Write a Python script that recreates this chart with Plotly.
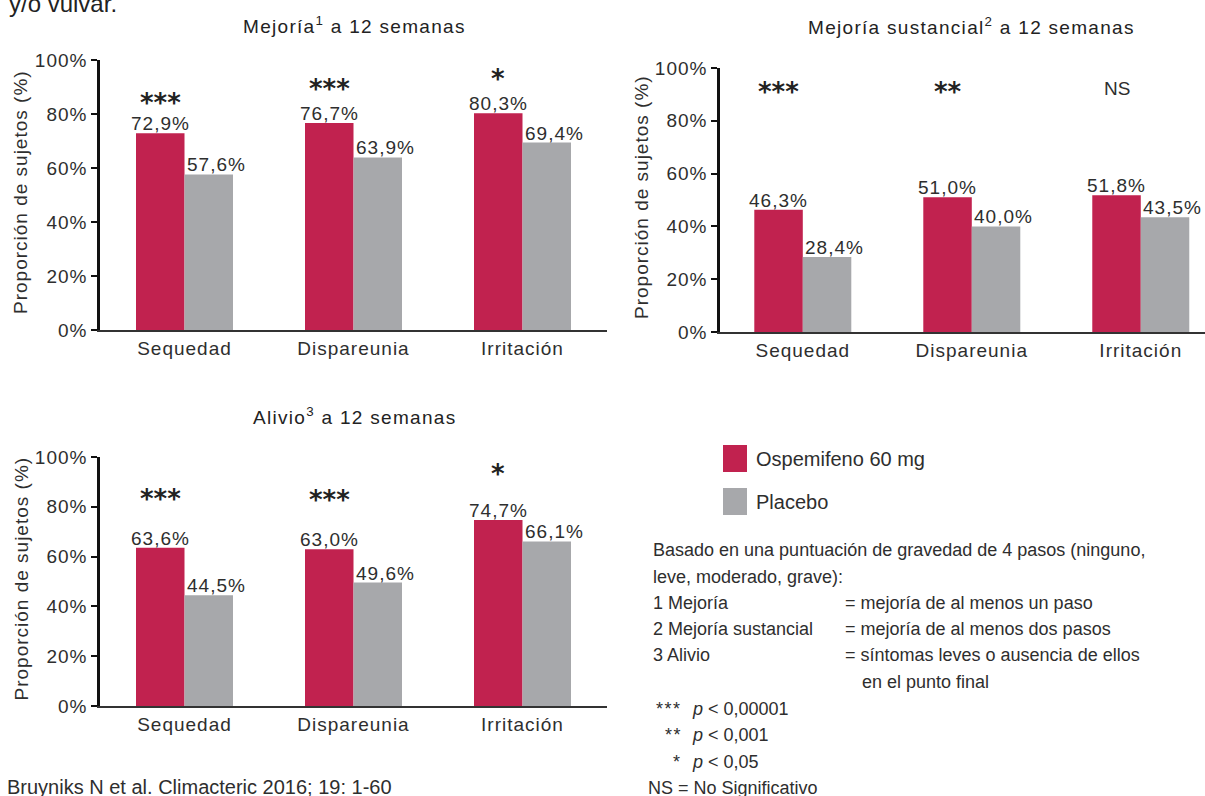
import plotly.graph_objects as go

# ---- data ----
categories = ["Sequedad", "Dispareunia", "Irritación"]

mejoria_ospemifeno = [72.9, 76.7, 80.3]
mejoria_placebo = [57.6, 63.9, 69.4]
mejoria_sig = ["***", "***", "*"]

sustancial_ospemifeno = [46.3, 51.0, 51.8]
sustancial_placebo = [28.4, 40.0, 43.5]
sustancial_sig = ["***", "**", "NS"]

alivio_ospemifeno = [63.6, 63.0, 74.7]
alivio_placebo = [44.5, 49.6, 66.1]
alivio_sig = ["***", "***", "*"]

y_ticks = [0, 20, 40, 60, 80, 100]
y_tick_labels = ["0%", "20%", "40%", "60%", "80%", "100%"]

# ---- styling / layout constants ----
W, H = 1205, 796
RED = "#C1224F"
GREY = "#A7A8AB"
TXT = "#2e2e2e"
FONT = "Liberation Sans"
BAR_PX = 48.5  # width of a single bar in pixels (169 px per category, bargap 0.426)


def px(x):
    return x / W


def py(y):
    return 1 - y / H


def spaced(t, sp=1):
    return f'<span style="letter-spacing:{sp}px">{t}</span>'


panels = [
    dict(title="Mejoría<sup>1</sup> a 12 semanas", title_xy=(354, 25),
         osp=mejoria_ospemifeno, pla=mejoria_placebo, sig=mejoria_sig,
         star_y=[85.6, 90.6, 94.6],
         xd=(100, 607), xr=[-0.5, 2.5], yd=(60, 330), ax=""),
    dict(title="Mejoría sustancial<sup>2</sup> a 12 semanas", title_xy=(971, 26),
         osp=sustancial_ospemifeno, pla=sustancial_placebo, sig=sustancial_sig,
         star_y=[92.4, 92.4, 92.4],
         xd=(720, 1205), xr=[-0.49, 2.38], yd=(68, 332), ax="2"),
    dict(title="Alivio<sup>3</sup> a 12 semanas", title_xy=(354, 416),
         osp=alivio_ospemifeno, pla=alivio_placebo, sig=alivio_sig,
         star_y=[84.7, 84.5, 94.8],
         xd=(100, 607), xr=[-0.5, 2.5], yd=(457, 706), ax="3"),
]


def fmt(v):
    return f"{v:.1f}".replace(".", ",") + "%"


fig = go.Figure()
annotations = []
layout_axes = {}

for p in panels:
    xa, ya = "x" + p["ax"], "y" + p["ax"]
    fig.add_trace(go.Bar(x=categories, y=p["osp"], name="Ospemifeno 60 mg",
                         marker=dict(color=RED, line=dict(width=0)),
                         xaxis=xa, yaxis=ya, showlegend=False, hoverinfo="skip"))
    fig.add_trace(go.Bar(x=categories, y=p["pla"], name="Placebo",
                         marker=dict(color=GREY, line=dict(width=0)),
                         xaxis=xa, yaxis=ya, showlegend=False, hoverinfo="skip"))

    layout_axes["xaxis" + p["ax"]] = dict(
        domain=[px(p["xd"][0]), px(p["xd"][1])], range=p["xr"], type="category",
        anchor=ya, showline=True, linecolor="#333333", linewidth=2,
        ticks="", showgrid=False, zeroline=False, automargin=False,
        tickmode="array", tickvals=categories, ticktext=[spaced(c) for c in categories],
        tickfont=dict(family=FONT, size=19, color=TXT), fixedrange=True)
    layout_axes["yaxis" + p["ax"]] = dict(
        domain=[py(p["yd"][1]), py(p["yd"][0])], range=[0, 100],
        anchor=xa, tickmode="array", tickvals=y_ticks, automargin=False,
        ticktext=[spaced(t) for t in y_tick_labels], showline=True,
        linecolor="#111111", linewidth=2.5, ticks="outside", ticklen=6,
        tickwidth=1.5, tickcolor="#111111", showgrid=False, zeroline=False,
        tickfont=dict(family=FONT, size=19, color=TXT), fixedrange=True)

    # panel title
    annotations.append(dict(text=spaced(p["title"], 1.3), x=px(p["title_xy"][0]), y=py(p["title_xy"][1]),
                            xref="paper", yref="paper", xanchor="center", yanchor="middle",
                            showarrow=False, font=dict(family=FONT, size=19, color="#222222")))
    # y axis title
    annotations.append(dict(text=spaced("Proporción de sujetos (%)"), textangle=-90,
                            x=px(p["xd"][0] - 79), y=py((p["yd"][0] + p["yd"][1]) / 2 - 3),
                            xref="paper", yref="paper", xanchor="center", yanchor="middle",
                            showarrow=False, font=dict(family=FONT, size=19, color=TXT)))

    for i, cat in enumerate(categories):
        # value labels
        annotations.append(dict(text=spaced(fmt(p["osp"][i])), x=cat, y=p["osp"][i], xref=xa, yref=ya,
                                xshift=-BAR_PX / 2, yshift=-3, xanchor="center", yanchor="bottom",
                                showarrow=False, font=dict(family=FONT, size=19, color=TXT)))
        annotations.append(dict(text=spaced(fmt(p["pla"][i])), x=cat, y=p["pla"][i], xref=xa, yref=ya,
                                xshift=0, yshift=-3, xanchor="left", yanchor="bottom",
                                showarrow=False, font=dict(family=FONT, size=19, color=TXT)))
        # significance markers
        s = p["sig"][i]
        if s == "NS":
            font = dict(family=FONT, size=19, color=TXT)
            shift = 0
        else:
            font = dict(family="DejaVu Sans", size=26, color="#222222", weight="bold")
            shift = -4
        annotations.append(dict(text=s, x=cat, y=p["star_y"][i], xref=xa, yref=ya,
                                xshift=-BAR_PX / 2, yshift=shift, xanchor="center", yanchor="middle",
                                showarrow=False, font=font))

# legend drawn as swatches + labels
legend_items = [("Ospemifeno 60 mg", RED, 445, 472), ("Placebo", GREY, 488, 515)]
shapes = []
for label, col, y0, y1 in legend_items:
    shapes.append(dict(type="rect", xref="paper", yref="paper",
                       x0=px(723), x1=px(747), y0=py(y1), y1=py(y0),
                       fillcolor=col, line=dict(width=0)))
    annotations.append(dict(text=label, x=px(754), y=py((y0 + y1) / 2), xref="paper", yref="paper",
                            xanchor="left", yanchor="middle", showarrow=False,
                            font=dict(family=FONT, size=20, color=TXT)))

# footnotes
note_lines = [
    (651, 550, "Basado en una puntuación de gravedad de 4 pasos (ninguno,"),
    (651, 577, "leve, moderado, grave):"),
    (651, 603, "1 Mejoría"),
    (651, 629, "2 Mejoría sustancial"),
    (651, 655, "3 Alivio"),
    (843, 603, "= mejoría de al menos un paso"),
    (843, 629, "= mejoría de al menos dos pasos"),
    (843, 655, "= síntomas leves o ausencia de ellos"),
    (860, 682, "en el punto final"),
    (690, 709, "<i>p</i> < 0,00001"),
    (690, 735, "<i>p</i> < 0,001"),
    (690, 762, "<i>p</i> < 0,05"),
]
for x, y, t in note_lines:
    annotations.append(dict(text=t, x=px(x), y=py(y), xref="paper", yref="paper",
                            xanchor="left", yanchor="middle", showarrow=False,
                            font=dict(family=FONT, size=18, color=TXT)))

# significance key symbols, right-aligned in front of the p-values
for y, sym in [(709, "***"), (735, "**"), (762, "*")]:
    annotations.append(dict(text=spaced(sym, 1.5), x=px(684), y=py(y), xref="paper", yref="paper",
                            xanchor="right", yanchor="middle", showarrow=False,
                            font=dict(family=FONT, size=18, color=TXT)))

# lines running off the page edge: drawn as text on a full-page overlay so they clip
edge_text = ["y/o vulvar.", "Bruyniks N et al. Climacteric 2016; 19: 1-60", "NS = No Significativo"]
edge_x = [9, 7, 648]
edge_y = [6, 789, 789]
edge_size = [24, 20, 18]
fig.add_trace(go.Scatter(x=edge_x, y=edge_y, text=edge_text, mode="text",
                         textposition="middle right", cliponaxis=True,
                         textfont=dict(family=FONT, size=edge_size, color=["#222222", TXT, TXT]),
                         xaxis="x4", yaxis="y4", showlegend=False, hoverinfo="skip"))
layout_axes["xaxis4"] = dict(domain=[0, 1], range=[0, W], visible=False, fixedrange=True, anchor="y4")
layout_axes["yaxis4"] = dict(domain=[0, 1], range=[H, 0], visible=False, fixedrange=True, anchor="x4")

fig.update_layout(
    width=W, height=H, margin=dict(l=0, r=0, t=0, b=0, pad=0, autoexpand=False),
    paper_bgcolor="white", plot_bgcolor="rgba(0,0,0,0)",
    barmode="group", bargap=0.426, bargroupgap=0, showlegend=False,
    annotations=annotations, shapes=shapes,
    font=dict(family=FONT, color=TXT),
    **layout_axes,
)

fig.write_html("out.html")
